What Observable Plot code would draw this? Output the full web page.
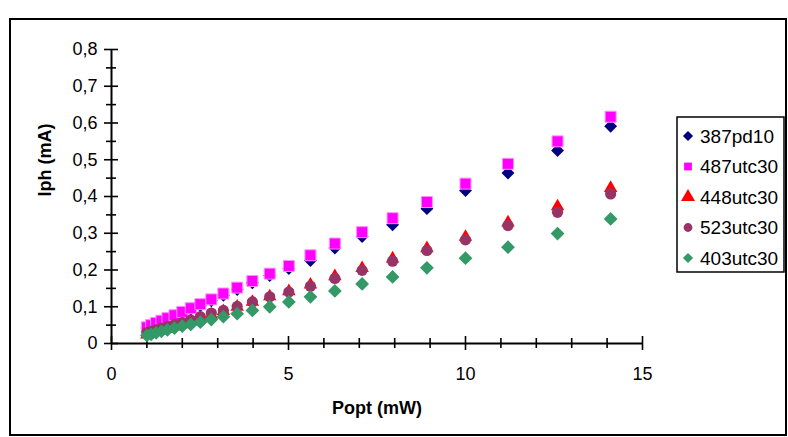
<!DOCTYPE html>
<html><head><meta charset="utf-8">
<script src="https://cdn.jsdelivr.net/npm/d3@7"></script>
<script src="https://cdn.jsdelivr.net/npm/@observablehq/plot@0.6"></script>
<style>
html,body{margin:0;padding:0;background:#fff;}
#wrap{position:relative;width:788px;height:437px;overflow:hidden;font-family:"Liberation Sans",Arial,sans-serif;}
#wrap svg{position:absolute;left:0;top:0;}
#frame{position:absolute;left:9px;top:18px;width:778px;height:418px;border:2px solid #000;box-sizing:border-box;pointer-events:none;}
</style></head><body><div id="wrap"><div id="frame"></div></div>
<script>
const popt = [1.00,1.12,1.26,1.41,1.58,1.78,2.00,2.24,2.51,2.82,3.16,3.55,3.98,4.47,5.01,5.62,6.31,7.08,7.94,8.91,10.0,11.2,12.6,14.1];
const s387pd10  = [0.042,0.047,0.053,0.059,0.066,0.074,0.083,0.093,0.103,0.116,0.131,0.147,0.165,0.185,0.204,0.226,0.260,0.291,0.323,0.367,0.416,0.464,0.525,0.591];
const s487utc30 = [0.044,0.050,0.056,0.062,0.069,0.077,0.086,0.096,0.107,0.120,0.136,0.152,0.170,0.190,0.211,0.240,0.272,0.303,0.341,0.385,0.435,0.489,0.550,0.617];
const s448utc30 = [0.024,0.027,0.031,0.035,0.040,0.046,0.052,0.060,0.068,0.078,0.088,0.100,0.113,0.128,0.142,0.160,0.183,0.205,0.231,0.259,0.290,0.329,0.373,0.423];
const s523utc30 = [0.030,0.033,0.037,0.041,0.046,0.051,0.057,0.064,0.073,0.083,0.090,0.101,0.113,0.127,0.140,0.156,0.177,0.199,0.224,0.253,0.282,0.321,0.357,0.407];
const s403utc30 = [0.022,0.025,0.029,0.033,0.037,0.042,0.047,0.052,0.058,0.065,0.073,0.081,0.090,0.100,0.113,0.127,0.143,0.162,0.181,0.206,0.232,0.262,0.299,0.339];

const seriesNames = ["387pd10","487utc30","448utc30","523utc30","403utc30"];
const seriesValues = [s387pd10,s487utc30,s448utc30,s523utc30,s403utc30];
const colors = ["#000080","#FF00FF","#FF0000","#993366","#339966"];
const symbols = ["diamond2","square","triangle","circle","diamond2"];
const radii = [5.8,6.2,5.0,5.6,6.2];

const yMajor = [0,0.1,0.2,0.3,0.4,0.5,0.6,0.7,0.8];
const yMinor = [0.05,0.15,0.25,0.35,0.45,0.55,0.65,0.75];
const xMajor = [0,5,10,15];
const xMinor = [1,2,3,4,6,7,8,9,11,12,13,14];

const fmtY = d => d === 0 ? "0" : d.toFixed(1).replace(".", ",");

const dotMarks = seriesNames.map((name, i) => Plot.dot(
  popt.map((p, j) => ({popt: p, iph: seriesValues[i][j], series: name})),
  {x: "popt", y: "iph", symbol: () => symbols[i], r: radii[i], fill: colors[i],
   stroke: i === 1 ? "#ff8cff" : "none", strokeWidth: 1}
));

const chart = Plot.plot({
  width: 788, height: 437,
  marginLeft: 111, marginRight: 146, marginTop: 49, marginBottom: 94,
  style: {fontFamily: "'Liberation Sans', Arial, sans-serif", fontSize: "18px", background: "transparent", color: "#000", overflow: "visible"},
  x: {domain: [0, 15]},
  y: {domain: [0, 0.8]},
  symbol: {type: "identity"},
  marks: [
    Plot.axisY({ticks: yMajor, tickSize: 14, dx: 7, fill: "none", stroke: "#000", strokeWidth: 1.6, label: null}),
    Plot.axisY({ticks: yMinor, tickSize: 10, dx: 5, fill: "none", stroke: "#000", strokeWidth: 1.6, label: null}),
    Plot.axisY({ticks: yMajor, tickSize: 0, tickPadding: 14, tickFormat: fmtY, fill: "#000", fontSize: 18, label: null}),
    Plot.axisX({ticks: xMajor, tickSize: 14, dy: -7, fill: "none", stroke: "#000", strokeWidth: 1.6, label: null}),
    Plot.axisX({ticks: xMinor, tickSize: 10, dy: -5, fill: "none", stroke: "#000", strokeWidth: 1.6, label: null}),
    Plot.axisX({ticks: xMajor, tickSize: 0, tickPadding: 24, tickFormat: d => String(d), fill: "#000", fontSize: 18, label: null}),
    Plot.ruleX([0], {stroke: "#000", strokeWidth: 2}),
    Plot.ruleY([0], {stroke: "#000", strokeWidth: 2}),
    ...dotMarks,
    Plot.text(["Popt (mW)"], {frameAnchor: "bottom", dy: 70, text: d => d, fontWeight: "bold", fontSize: 18, fill: "#000"}),
    Plot.text(["Iph (mA)"], {frameAnchor: "left", dx: -66, rotate: -90, text: d => d, fontWeight: "bold", fontSize: 18, fill: "#000"})
  ]
});
document.getElementById("wrap").prepend(chart);

// Legend
const svg = d3.select(chart);
const lg = svg.append("g").attr("font-family", "'Liberation Sans', Arial, sans-serif").attr("text-anchor", "start");
const lx = 677, ly = 117, lw = 107, lh = 155;
lg.append("rect").attr("x", lx).attr("y", ly).attr("width", lw).attr("height", lh)
  .attr("fill", "#fff").attr("stroke", "#000").attr("stroke-width", 1.5);
const symMap = {diamond2: d3.symbolDiamond2, square: d3.symbolSquare, triangle: d3.symbolTriangle, circle: d3.symbolCircle};
const legendR = [4.6, 4.4, 5.2, 4.4, 4.6];
seriesNames.forEach((name, i) => {
  const cy = ly + 19 + i * 30.5;
  lg.append("path")
    .attr("d", d3.symbol(symMap[symbols[i]], Math.PI * legendR[i] * legendR[i])())
    .attr("transform", `translate(${lx + 11},${cy})`)
    .attr("fill", colors[i]);
  lg.append("text").attr("x", lx + 23).attr("y", cy).attr("dy", "0.35em")
    .attr("text-anchor", "start")
    .attr("font-size", 19).attr("fill", "#000").text(name);
});
</script>
</body></html>
